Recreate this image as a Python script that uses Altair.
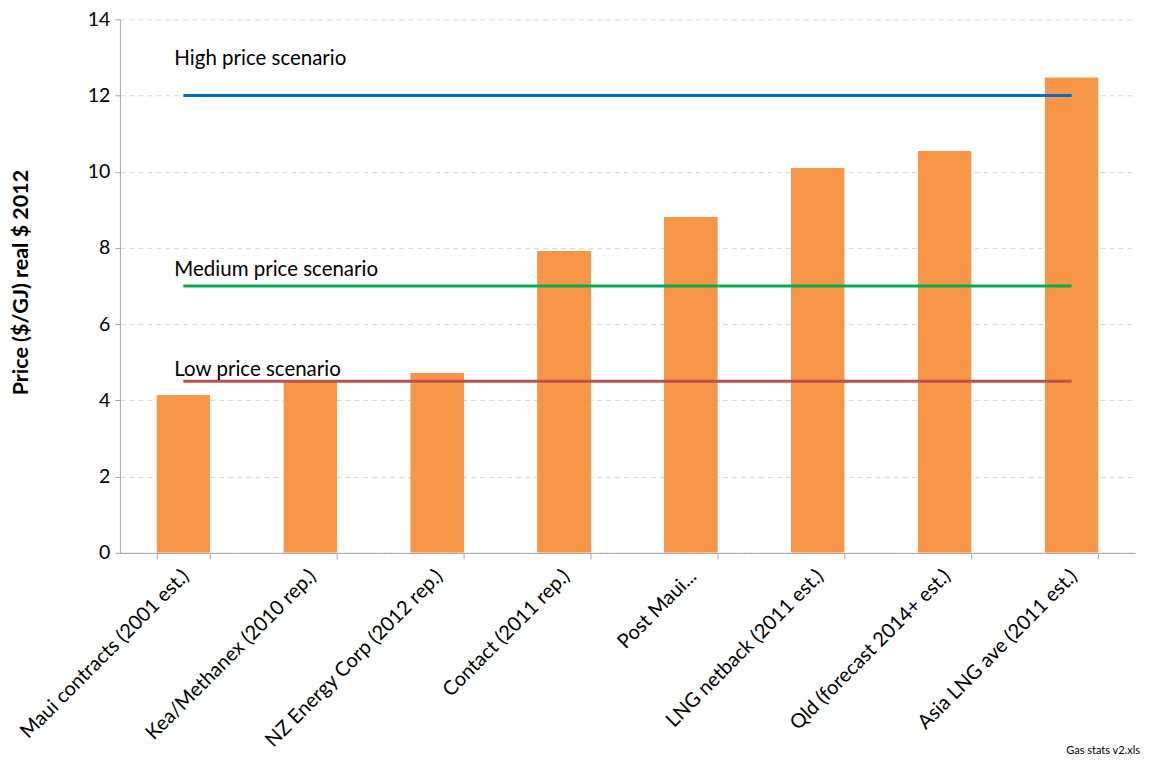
import altair as alt
import pandas as pd

categories = [
    "Maui contracts (2001 est.)",
    "Kea/Methanex (2010 rep.)",
    "NZ Energy Corp (2012 rep.)",
    "Contact (2011 rep.)",
    "Post Maui...",
    "LNG netback (2011 est.)",
    "Qld (forecast 2014+ est.)",
    "Asia LNG ave (2011 est.)",
]
prices = [4.15, 4.5, 4.72, 7.93, 8.82, 10.1, 10.55, 12.48]

scenarios = ["High price scenario", "Medium price scenario", "Low price scenario"]
scenario_prices = [12, 7, 4.5]
scenario_colors = ["#0070C0", "#00B050", "#C0504D"]
scenario_label_prices = [12.95, 7.42, 4.8]

FONT = "Lato"
FS = 20
W, H = 1016, 534

bars_df = pd.DataFrame({"category": categories, "price": prices})
lines_df = pd.DataFrame(
    [
        {"scenario": s, "category": c, "price": p}
        for s, p in zip(scenarios, scenario_prices)
        for c in (categories[0], categories[-1])
    ]
)
labels_df = pd.DataFrame(
    {
        "scenario": scenarios,
        "category": [categories[0]] * len(scenarios),
        "label_price": scenario_label_prices,
    }
)

x_enc = alt.X(
    "category:N",
    sort=categories,
    scale=alt.Scale(paddingInner=0.575, paddingOuter=0.2875),
    axis=alt.Axis(
        title=None,
        labelAngle=-45,
        labelAlign="right",
        labelBaseline="middle",
        labelFontSize=FS,
        labelFont=FONT,
        labelColor="#000000",
        labelPadding=14,
        labelOffset=2,
        tickBand="extent",
        tickSize=6,
        tickColor="#a6a6a6",
        domainColor="#a6a6a6",
        labelLimit=400,
        grid=False,
    ),
)

y_scale = alt.Scale(domain=[0, 14], nice=False)
y_axis = alt.Axis(
    values=list(range(0, 15, 2)),
    title="Price ($/GJ) real $ 2012",
    titleFont=FONT,
    titleFontSize=21.5,
    titleFontWeight="bold",
    titleColor="#000000",
    titleX=-98,
    titleY=H / 2 - 4,
    titleAlign="center",
    titleBaseline="middle",
    labelFont=FONT,
    labelFontSize=19.5,
    labelColor="#000000",
    labelPadding=5,
    tickSize=5,
    tickColor="#a6a6a6",
    domainColor="#a6a6a6",
    gridColor="#d9d9d9",
    gridDash=[5, 4],
)

bars = (
    alt.Chart(bars_df)
    .mark_bar(color="#F79646", cornerRadius=1)
    .encode(x=x_enc, y=alt.Y("price:Q", scale=y_scale, axis=y_axis))
)

lines = (
    alt.Chart(lines_df)
    .mark_line(strokeWidth=3)
    .encode(
        x=alt.X("category:N", sort=categories),
        y=alt.Y("price:Q"),
        color=alt.Color(
            "scenario:N",
            scale=alt.Scale(domain=scenarios, range=scenario_colors),
            legend=None,
        ),
        detail="scenario:N",
    )
)

texts = (
    alt.Chart(labels_df)
    .mark_text(align="left", baseline="middle", dx=-9, fontSize=20.5, font=FONT, color="#000000")
    .encode(
        x=alt.X("category:N", sort=categories),
        y=alt.Y("label_price:Q"),
        text="scenario:N",
    )
)

chart = (
    alt.layer(bars, lines, texts)
    .properties(
        width=W,
        height=H,
        autosize=alt.AutoSizeParams(type="none"),
        padding={"left": 112, "top": 11, "right": 14, "bottom": 211},
        title=alt.TitleParams(
            "Gas stats v2.xls",
            orient="bottom",
            anchor="end",
            fontSize=11,
            fontWeight="normal",
            font=FONT,
            color="#000000",
            offset=-6,
            dx=5,
        ),
    )
    .configure_view(stroke=None)
)

chart.save("out.html", embed_options={"renderer": "svg", "actions": False})
